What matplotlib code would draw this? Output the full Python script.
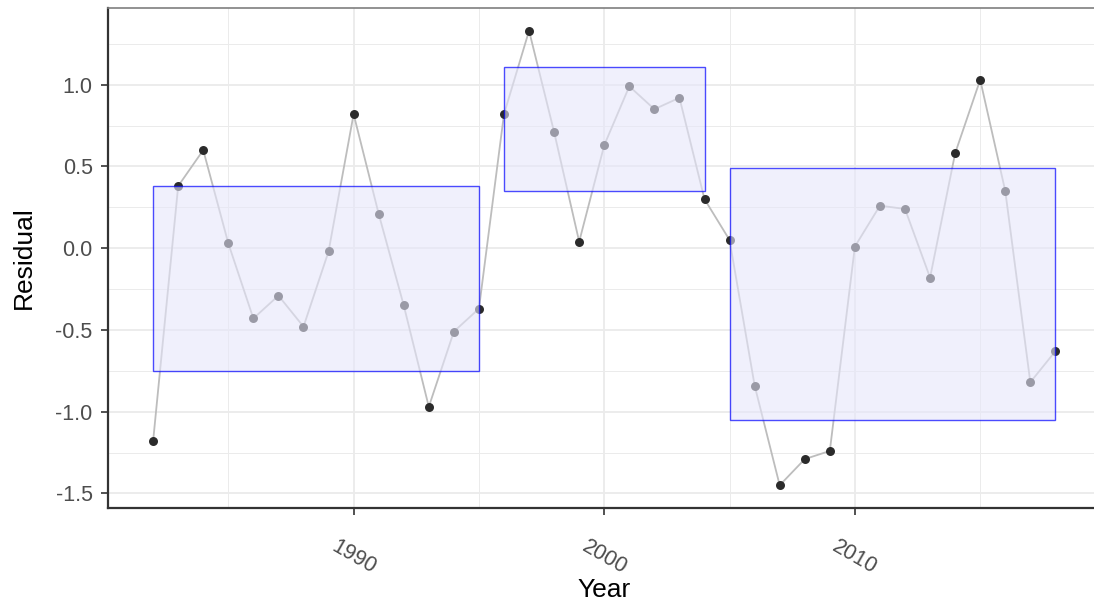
import matplotlib

matplotlib.use("Agg")
import matplotlib.pyplot as plt
from matplotlib.patches import Rectangle
from matplotlib.ticker import FormatStrFormatter, MultipleLocator

plt.rcParams["font.family"] = ["Liberation Sans", "DejaVu Sans"]

# residuals per year
years = list(range(1982, 2019))
residuals = [
    -1.18, 0.38, 0.60, 0.03, -0.43, -0.29, -0.48, -0.02, 0.82, 0.21,
    -0.35, -0.97, -0.51, -0.37, 0.82, 1.33, 0.71, 0.04, 0.63, 0.99,
    0.85, 0.92, 0.30, 0.05, -0.84, -1.45, -1.29, -1.24, 0.01, 0.26,
    0.24, -0.18, 0.58, 1.03, 0.35, -0.82, -0.63,
]

# regime boxes: (start year, end year, low, high)
box_start = [1982, 1996, 2005]
box_end = [1995, 2004, 2018]
box_low = [-0.75, 0.35, -1.05]
box_high = [0.38, 1.11, 0.49]

TICK_GREY = "#4D4D4D"

fig = plt.figure(figsize=(10.94, 6.07), dpi=100)
ax = fig.add_axes([108 / 1094, 1 - 508 / 607, 992.5 / 1094, 500 / 607])

ax.plot(years, residuals, color="#BDBDBD", lw=1.3, zorder=2)
ax.scatter(years, residuals, s=42, color="#2B2B2B", zorder=3, linewidths=0)

for x0, x1, lo, hi in zip(box_start, box_end, box_low, box_high):
    ax.add_patch(Rectangle((x0, lo), x1 - x0, hi - lo,
                           facecolor=(0.9, 0.9, 0.98, 0.6),
                           edgecolor=(0, 0, 1, 0.7), lw=1.0, zorder=4))

span = max(years) - min(years)
ax.set_xlim(min(years) - 0.05 * span, max(years) + 0.05 * span)
yr = max(residuals) - min(residuals)
ax.set_ylim(min(residuals) - 0.05 * yr, max(residuals) + 0.05 * yr)

ax.xaxis.set_major_locator(MultipleLocator(10))
ax.xaxis.set_minor_locator(MultipleLocator(5))
ax.yaxis.set_major_locator(MultipleLocator(0.5))
ax.yaxis.set_minor_locator(MultipleLocator(0.25))
ax.yaxis.set_major_formatter(FormatStrFormatter("%.1f"))

ax.grid(which="major", color="#EBEBEB", lw=1.3, zorder=0)
ax.grid(which="minor", color="#EBEBEB", lw=0.7, zorder=0)
ax.set_axisbelow(True)

ax.tick_params(axis="both", which="major", length=5, width=1.2, color="#333333",
               labelcolor=TICK_GREY, labelsize=15.5, pad=6)
ax.tick_params(axis="both", which="minor", length=0)
for lab in ax.get_xticklabels():
    lab.set_rotation(-30)
    lab.set_ha("center")
ax.tick_params(axis="x", pad=15)

for side in ("left", "bottom"):
    ax.spines[side].set_color("#333333")
    ax.spines[side].set_linewidth(1.6)
ax.spines["top"].set_color("#7F7F7F")
ax.spines["top"].set_linewidth(1.2)
ax.spines["right"].set_visible(False)

ax.set_xlabel("Year", fontsize=19, labelpad=0)
ax.set_ylabel("Residual", fontsize=19, labelpad=14)

fig.savefig("out.png", dpi=100)
